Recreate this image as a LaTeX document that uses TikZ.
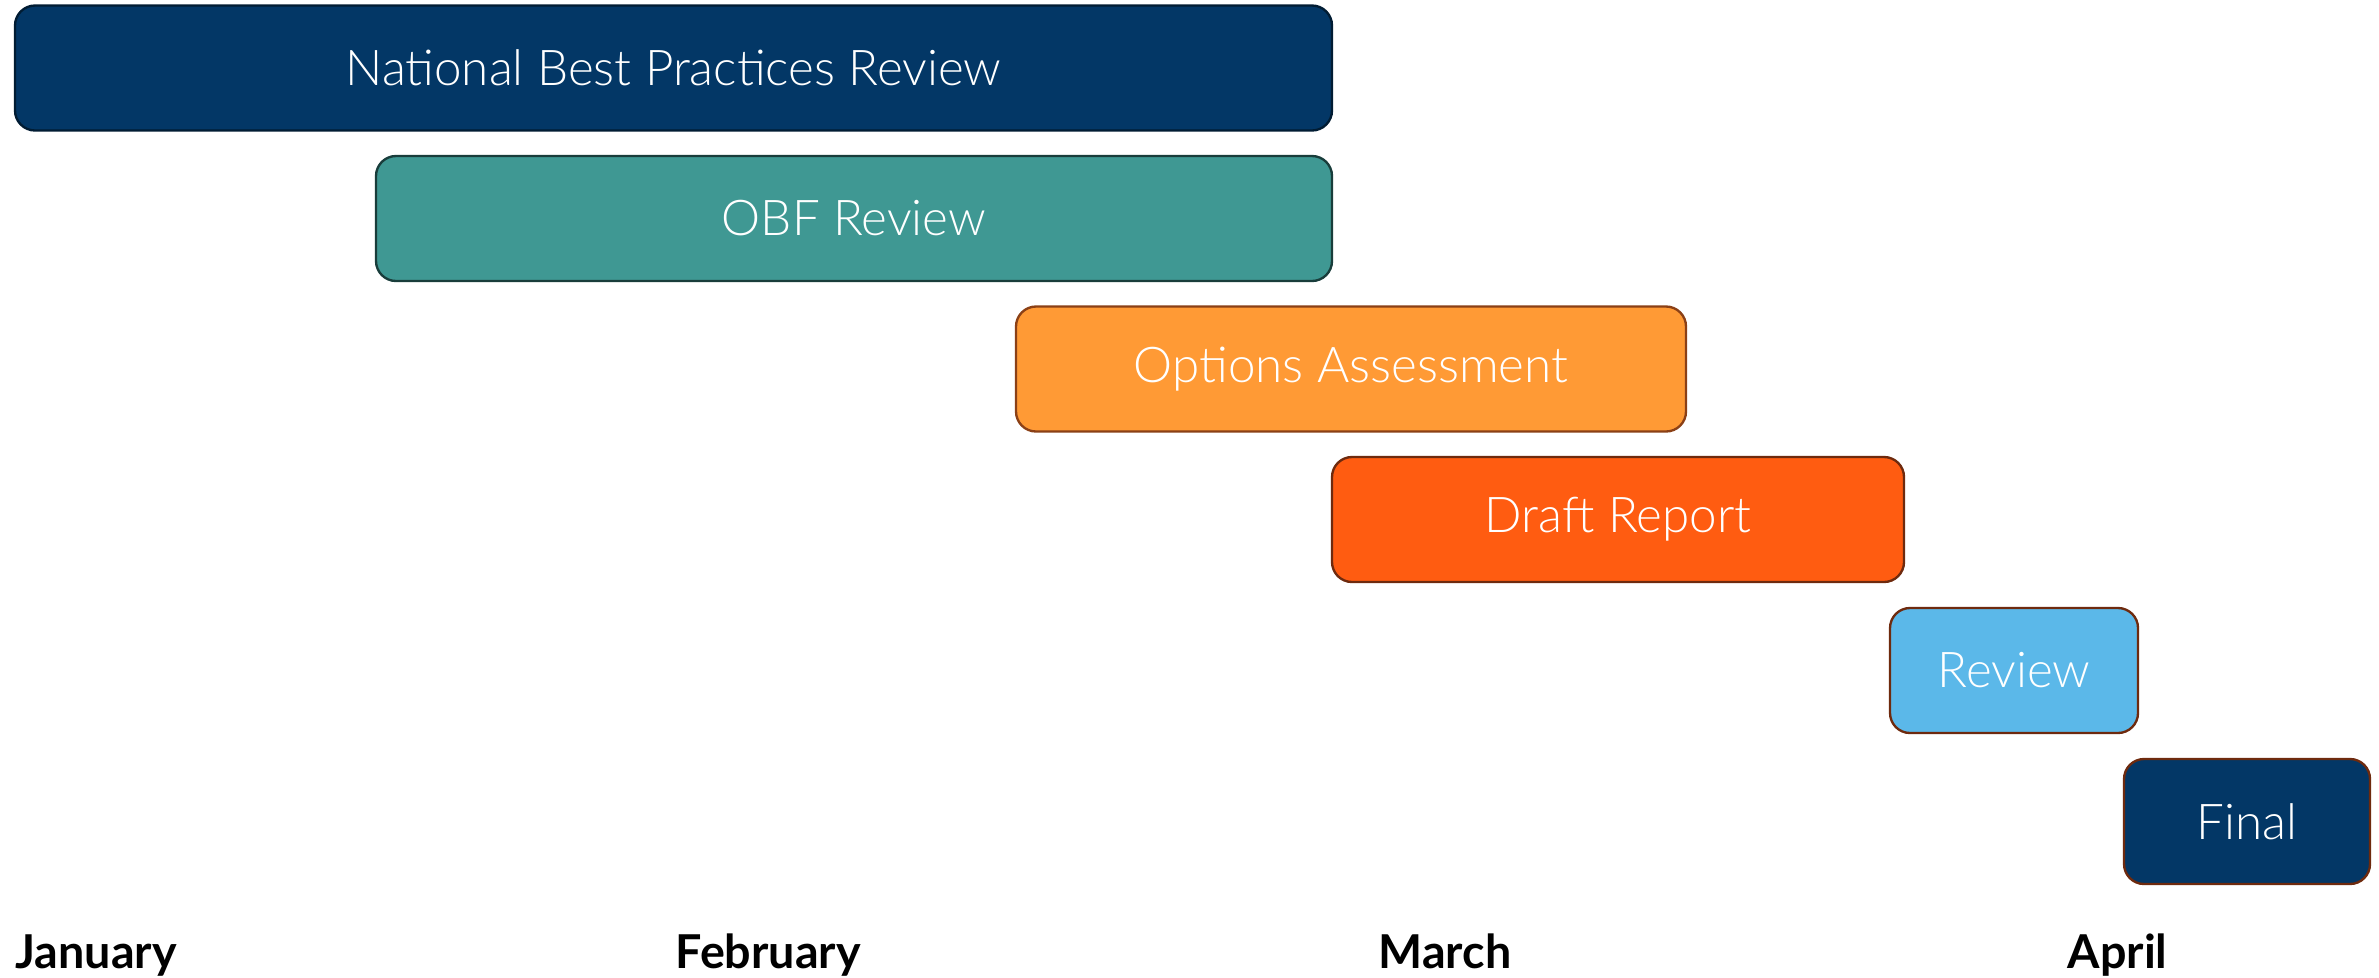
\documentclass[tikz,border=0pt]{standalone}
\usepackage{fontspec}
\setmainfont{Lato}
\IfFontExistsTF{Lato Light}{\newfontfamily\barfont{Lato Light}}{\newfontfamily\barfont{Lato}}
\usetikzlibrary{positioning}

\definecolor{navy}{HTML}{033766}
\definecolor{teal}{HTML}{3F9893}
\definecolor{apricot}{HTML}{FF9A35}
\definecolor{blaze}{HTML}{FF5C11}
\definecolor{sky}{HTML}{5BB8E9}
\definecolor{rim}{HTML}{6E2A0E}

\begin{document}
\begin{tikzpicture}[x=0.3pt,y=-0.3pt]
				\tikzstyle{task}=[draw=rim,line width=0.7pt,rounded corners=6pt,
				minimum height=37.5pt,inner sep=0pt,outer sep=0pt,
				text=white,font=\barfont\fontsize{14.8}{17}\selectfont]
				\tikzstyle{month}=[anchor=base west,inner sep=0pt,
				font=\bfseries\fontsize{14}{16}\selectfont]
				\useasboundingbox (0,0) rectangle (2379,977);
				% task bars, top to bottom
				\node[task,fill=navy,draw=navy!50!black,minimum width=395.1pt] (nbpr) at (673.5,68) {National Best Practices Review};
				\node[task,fill=teal,draw=teal!40!black,minimum width=286.8pt] (obf) at (854,218.5) {OBF Review};
				\node[task,fill=apricot,draw=rim!80!apricot,minimum width=201pt] (options) at (1351,369) {Options Assessment};
				\node[task,fill=blaze,minimum width=171.6pt] (draft) at (1618,519.5) {Draft Report};
				\node[task,fill=sky,minimum width=74.4pt] (review) at (2014,670.5) {Review};
				\node[task,fill=navy,minimum width=73.8pt] (final) at (2247,821.5) {Final};
				% month axis
				\node[month] (jan) at (15,968) {January};
				\node[month] (feb) at (675,968) {February};
				\node[month] (mar) at (1378,968) {March};
				\node[month] (apr) at (2067,968) {April};
\end{tikzpicture}
\end{document}
